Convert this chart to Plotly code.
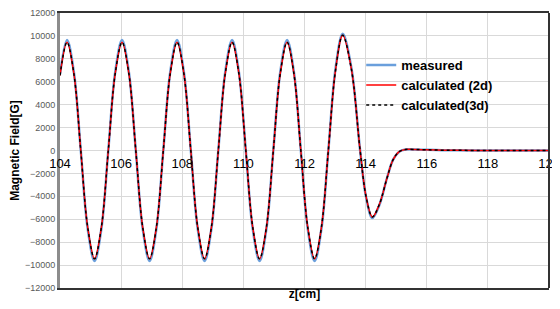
import plotly.graph_objects as go

# z positions [cm]
z = [104.0, 104.23, 104.455, 104.68, 104.905, 105.13, 105.355, 105.58, 105.805,
     106.03, 106.255, 106.48, 106.705, 106.93, 107.155, 107.38, 107.605,
     107.83, 108.055, 108.28, 108.505, 108.73, 108.955, 109.18, 109.405,
     109.63, 109.855, 110.08, 110.305, 110.53, 110.755, 110.98, 111.205,
     111.43, 111.655, 111.88, 112.105, 112.33, 112.555, 112.78, 113.015,
     113.25, 113.535, 113.82, 114.02, 114.22, 114.45, 114.7, 114.9,
     115.1, 115.3, 115.6, 116.0, 116.5, 117.0, 118.0, 119.0, 120.0]

measured = [6650, 9650, 6820, 0, -6820, -9650, -6820, 0, 6820,
            9650, 6820, 0, -6820, -9650, -6820, 0, 6820,
            9650, 6820, 0, -6820, -9650, -6820, 0, 6820,
            9650, 6820, 0, -6820, -9650, -6820, 0, 6820,
            9650, 6820, 0, -6820, -9650, -6820, 0, 7150,
            10200, 7200, 0, -4150, -5900, -4750, -2400, -800,
            -100, 80, 90, 60, 30, 15, 5, 0, 0]

calc_2d = [6550, 9450, 6680, 0, -6680, -9450, -6680, 0, 6680,
           9450, 6680, 0, -6680, -9450, -6680, 0, 6680,
           9450, 6680, 0, -6680, -9450, -6680, 0, 6680,
           9450, 6680, 0, -6680, -9450, -6680, 0, 6680,
           9450, 6680, 0, -6680, -9450, -6680, 0, 7000,
           10050, 7100, 0, -4100, -5800, -4700, -2400, -800,
           -100, 80, 90, 60, 30, 15, 5, 0, 0]

calc_3d = [6550, 9450, 6680, 0, -6680, -9450, -6680, 0, 6680,
           9450, 6680, 0, -6680, -9450, -6680, 0, 6680,
           9450, 6680, 0, -6680, -9450, -6680, 0, 6680,
           9450, 6680, 0, -6680, -9450, -6680, 0, 6680,
           9450, 6680, 0, -6680, -9450, -6680, 0, 7000,
           10050, 7100, 0, -4100, -5800, -4700, -2400, -800,
           -100, 80, 90, 60, 30, 15, 5, 0, 0]

x_ticks = [104, 106, 108, 110, 112, 114, 116, 118, 120]
y_ticks = list(range(-12000, 12001, 2000))

FONT = "Liberation Sans"

fig = go.Figure()
fig.add_trace(go.Scatter(x=z, y=measured, name="measured", mode="lines",
                         line=dict(color="#6a9fdc", width=2.5, shape="spline")))
fig.add_trace(go.Scatter(x=z, y=calc_2d, name="calculated (2d)", mode="lines",
                         line=dict(color="#ff0000", width=1.5, shape="spline")))
fig.add_trace(go.Scatter(x=z, y=calc_3d, name="calculated(3d)", mode="lines",
                         line=dict(color="#000000", width=1.5, dash="dot", shape="spline")))
# empty trace so the zero-line tick-label axis is drawn
fig.add_trace(go.Scatter(x=[], y=[], xaxis="x2", showlegend=False, hoverinfo="skip"))

fig.update_layout(
    width=552, height=293,
    margin=dict(l=52, r=11, t=5, b=13, autoexpand=False),
    paper_bgcolor="white", plot_bgcolor="white",
    font=dict(family=FONT),
    showlegend=True,
    legend=dict(x=0.616, y=0.865, xanchor="left", yanchor="top",
                bgcolor="rgba(0,0,0,0)", tracegroupgap=0,
                font=dict(family=FONT, size=13, color="#000000", weight="bold"),
                itemwidth=30),
    xaxis=dict(range=[104, 120], tickvals=x_ticks, showticklabels=False,
               showgrid=True, gridcolor="#d9d9d9", gridwidth=1,
               showline=True, linecolor="#333333", linewidth=2, mirror=True,
               zeroline=False, ticks="", automargin=False,
               title=dict(text="<b>z[cm]</b>", standoff=2,
                          font=dict(size=12, color="#000000"))),
    xaxis2=dict(range=[104, 120], matches="x", overlaying="x", anchor="free",
                position=0.5, tickvals=x_ticks, showgrid=False, showline=False,
                zeroline=False, ticks="", automargin=False, ticklabelstandoff=3,
                ticklabeloverflow="allow",
                tickfont=dict(family=FONT, size=13, color="#000000")),
    yaxis=dict(range=[-12000, 12000], tickvals=y_ticks, tickformat="d",
               showgrid=True, gridcolor="#d9d9d9", gridwidth=1,
               showline=True, linecolor="#8c8c8c", linewidth=3,
               zeroline=False, ticks="", automargin=False,
               tickfont=dict(family=FONT, size=9, color="#595959"),
               title=dict(text="<b>Magnetic Field[G]</b>", standoff=8,
                          font=dict(size=12, color="#000000"))),
    shapes=[dict(type="line", xref="paper", yref="paper", x0=1, x1=1, y0=0, y1=1,
                 line=dict(color="#333333", width=2))],
)

fig.write_html("out.html")
